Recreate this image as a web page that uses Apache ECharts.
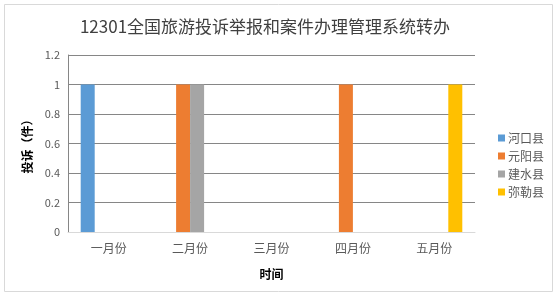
<!DOCTYPE html>
<html><head><meta charset="utf-8">
<script src="https://cdn.jsdelivr.net/npm/echarts@6/dist/echarts.min.js"></script>
<style>html,body{margin:0;padding:0;background:#fff}#c{width:556px;height:296px}</style>
</head><body><div id="c"></div>
<script>
const title = '12301全国旅游投诉举报和案件办理管理系统转办';
const categories = ['一月份','二月份','三月份','四月份','五月份'];
const seriesNames = ['河口县','元阳县','建水县','弥勒县'];
const hekou = [1,0,0,0,0];
const yuanyang = [0,1,0,1,0];
const jianshui = [0,1,0,0,0];
const mile = [0,0,0,0,1];
const colors = ['#5B9BD5','#ED7D31','#A5A5A5','#FFC000'];
const values = [hekou, yuanyang, jianshui, mile];
const font = '"Noto Sans CJK SC", "Microsoft YaHei", sans-serif';

const chart = echarts.init(document.getElementById('c'), null, {renderer:'canvas'});
chart.setOption({
  animation:false,
  textStyle:{fontFamily:font},
  graphic:[{type:'rect',shape:{x:4.5,y:4.5,width:548,height:287},style:{fill:'none',stroke:'#d9d9d9',lineWidth:1},silent:true}],
  title:{text:title,top:13,left:260,textAlign:'center',textStyle:{fontSize:17,fontWeight:'normal',color:'#404040',fontFamily:font}},
  legend:{orient:'vertical',left:493,top:127,itemWidth:7,itemHeight:7,itemGap:6,icon:'rect',
    textStyle:{fontSize:12,color:'#595959',fontFamily:font,padding:[0,0,0,-2]},data:seriesNames},
  grid:{left:68,right:81,top:55,bottom:64,containLabel:false},
  xAxis:{type:'category',data:categories,
    axisLine:{lineStyle:{color:'#d9d9d9'}},axisTick:{show:false},
    axisLabel:{color:'#595959',fontSize:12,margin:10},
    name:'时间',nameLocation:'middle',nameGap:36,
    nameTextStyle:{fontWeight:'bold',fontSize:12,color:'#000'}},
  yAxis:{type:'value',min:0,max:1.2,interval:0.2,
    axisLine:{show:true,lineStyle:{color:'#868686'}},axisTick:{show:false},
    splitLine:{lineStyle:{color:'#868686'}},
    axisLabel:{color:'#595959',fontSize:11,margin:8,formatter:v=>String(Math.round(v*10)/10)},
    name:'投诉（件）',nameLocation:'middle',nameRotate:90,nameGap:34,
    nameTextStyle:{fontWeight:'bold',fontSize:12,color:'#000'}},
  series:seriesNames.map((n,i)=>({name:n,type:'bar',data:values[i],barWidth:14,barGap:'0%',
    itemStyle:{color:colors[i]}}))
});
</script></body></html>
